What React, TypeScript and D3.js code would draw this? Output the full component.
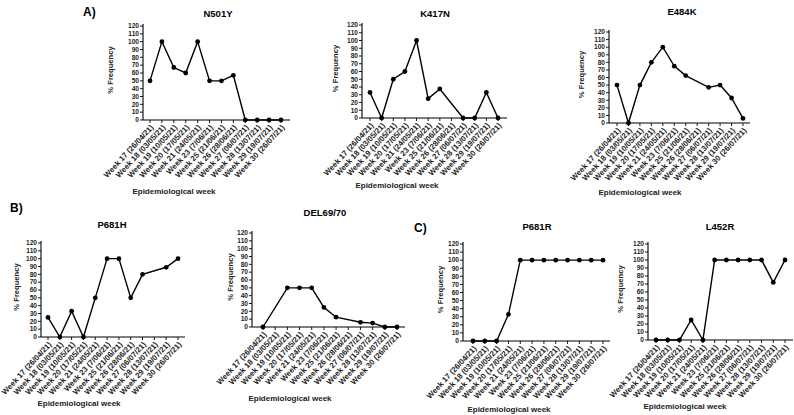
import { useEffect } from "react";
import * as d3 from "d3";

// x categories (epidemiological weeks)
const weeks = [
  "Week 17 (26/04/21)",
  "Week 18 (03/05/21)",
  "Week 19 (10/05/21)",
  "Week 20 (17/05/21)",
  "Week 21 (24/05/21)",
  "Week 23 (7/06/21)",
  "Week 25 (21/06/21)",
  "Week 26 (28/06/21)",
  "Week 27 (06/07/21)",
  "Week 28 (13/07/21)",
  "Week 29 (19/07/21)",
  "Week 30 (26/07/21)",
];

const yTicks = [0, 10, 20, 30, 40, 50, 60, 70, 80, 90, 100, 110, 120];

// % frequency per week, null = no sample that week
const n501y = [50, 100, 67, 60, 100, 50, 50, 57, 0, 0, 0, 0];
const k417n = [33, 0, 50, 60, 100, 25, 37.5, null, 0, 0, 33, 0];
const e484k = [50, 0, 50, 80, 100, 75, 62.5, null, 47, 50, 33, 6];
const p681h = [25, 0, 33, 0, 50, 100, 100, 50, 80, null, 89, 100];
const del6970 = [0, null, 50, 50, 50, 25, 12.5, null, 6, 5, 0, 0];
const p681r = [0, 0, 0, 33, 100, 100, 100, 100, 100, 100, 100, 100];
const l452r = [0, 0, 0, 25, 0, 100, 100, 100, 100, 100, 72, 100];

interface Layout {
  left: number; // y axis x
  right: number; // x axis end
  top: number; // y of 120
  bottom: number; // y of 0
  p0: number; // first category x
  p1: number; // last category x
  tx: number; // title centre
  ty: number;
  lx: number; // y label x
  xx: number; // x title centre
  xy: number;
}

interface PanelProps {
  title: string;
  values: (number | null)[];
  box: Layout;
}

const FONT = "'Liberation Sans', Arial, sans-serif";

function Panel({ title, values, box }: PanelProps) {
  const x = d3.scalePoint<string>().domain(weeks).range([box.p0, box.p1]);
  const y = d3.scaleLinear().domain([0, 120]).range([box.bottom, box.top]);

  const pts = weeks
    .map((w, i) => ({ w, v: values[i] }))
    .filter((d) => d.v !== null) as { w: string; v: number }[];

  const line = d3
    .line<{ w: string; v: number }>()
    .x((d) => x(d.w) ?? 0)
    .y((d) => y(d.v));

  return (
    <g>
      <text
        x={box.tx}
        y={box.ty + 3}
        textAnchor="middle"
        fontSize={9.5}
        fontWeight="bold"
        fontFamily={FONT}
      >
        {title}
      </text>

      {/* y axis */}
      <line x1={box.left} x2={box.left} y1={box.top - 2} y2={box.bottom} stroke="#000" strokeWidth={1.1} />
      {yTicks.map((t) => (
        <g key={t}>
          <line x1={box.left - 3} x2={box.left} y1={y(t)} y2={y(t)} stroke="#000" strokeWidth={0.9} />
          <text
            x={box.left - 4}
            y={y(t)}
            dy="0.35em"
            textAnchor="end"
            fontSize={6.6}
            fontWeight="bold"
            fontFamily={FONT}
            fill="#222"
          >
            {t}
          </text>
        </g>
      ))}
      <text
        transform={`translate(${box.lx},${(box.top + box.bottom) / 2 - 3}) rotate(-90)`}
        textAnchor="middle"
        fontSize={7.6}
        fontWeight={600}
        fontFamily={FONT}
        fill="#222"
      >
        % Frequency
      </text>

      {/* x axis */}
      <line x1={box.left} x2={box.right} y1={box.bottom} y2={box.bottom} stroke="#000" strokeWidth={1.1} />
      {weeks.map((w) => (
        <g key={w}>
          <line x1={x(w)} x2={x(w)} y1={box.bottom} y2={box.bottom + 3} stroke="#000" strokeWidth={0.9} />
          <text
            transform={`translate(${(x(w) ?? 0) + 2},${box.bottom + 6}) rotate(-47)`}
            textAnchor="end"
            dy="0.35em"
            fontSize={7.8}
            fontWeight="bold"
            fontFamily={FONT}
            fill="#222"
          >
            {w}
          </text>
        </g>
      ))}
      <text
        x={box.xx}
        y={box.xy + 3}
        textAnchor="middle"
        fontSize={8}
        fontWeight="bold"
        fontFamily={FONT}
        fill="#222"
      >
        Epidemiological week
      </text>

      <path d={line(pts) ?? ""} fill="none" stroke="#000" strokeWidth={1.4} />
      {pts.map((d) => (
        <circle key={d.w} cx={x(d.w)} cy={y(d.v)} r={2.4} fill="#000" />
      ))}
    </g>
  );
}

const panels: { title: string; values: (number | null)[]; box: Layout }[] = [
  { title: "N501Y", values: n501y, box: { left: 143, right: 290, top: 26, bottom: 120, p0: 150, p1: 281, tx: 218, ty: 14, lx: 113, xx: 174, xy: 191 } },
  { title: "K417N", values: k417n, box: { left: 362, right: 507, top: 25, bottom: 118, p0: 370, p1: 498, tx: 435, ty: 14, lx: 338, xx: 397, xy: 185 } },
  { title: "E484K", values: e484k, box: { left: 609, right: 750, top: 32, bottom: 123, p0: 617, p1: 743, tx: 682, ty: 12, lx: 584, xx: 640, xy: 192 } },
  { title: "P681H", values: p681h, box: { left: 41, right: 185, top: 243, bottom: 337, p0: 48, p1: 178, tx: 112, ty: 225, lx: 19, xx: 79, xy: 403 } },
  { title: "DEL69/70", values: del6970, box: { left: 252, right: 405, top: 233, bottom: 327, p0: 263, p1: 397, tx: 325, ty: 213, lx: 233, xx: 290, xy: 398 } },
  { title: "P681R", values: p681r, box: { left: 463, right: 610, top: 244, bottom: 341, p0: 473, p1: 603, tx: 537, ty: 227, lx: 443, xx: 509, xy: 409 } },
  { title: "L452R", values: l452r, box: { left: 648, right: 793, top: 244, bottom: 340, p0: 656, p1: 785, tx: 720, ty: 227, lx: 623, xx: 685, xy: 406 } },
];

export default function App() {
  useEffect(() => {
    document.body.style.margin = "0";
  }, []);

  return (
    <svg width={794} height={415} style={{ display: "block", background: "#fff" }}>
      <text x={83} y={16} fontSize={12} fontWeight="bold" fontFamily={FONT}>A)</text>
      <text x={10} y={212} fontSize={12} fontWeight="bold" fontFamily={FONT}>B)</text>
      <text x={414} y={232} fontSize={12} fontWeight="bold" fontFamily={FONT}>C)</text>
      {panels.map((p) => (
        <Panel key={p.title} title={p.title} values={p.values} box={p.box} />
      ))}
    </svg>
  );
}
